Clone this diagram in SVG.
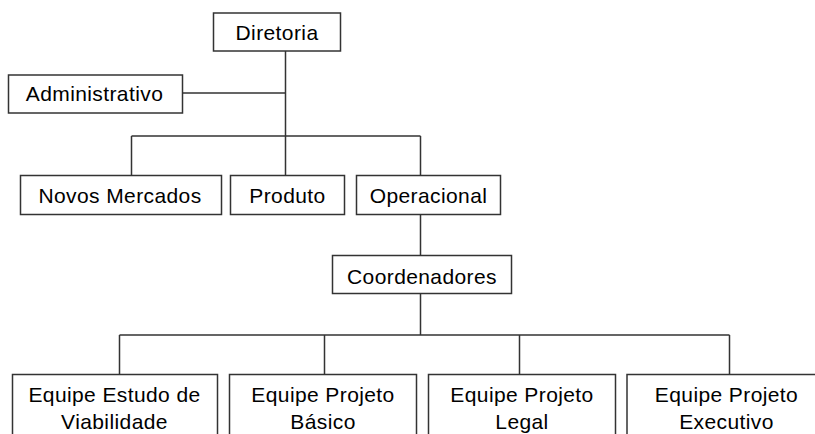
<svg xmlns="http://www.w3.org/2000/svg" width="815" height="434" viewBox="0 0 815 434">
<style>
.box{fill:#fff;stroke:#333;stroke-width:1.5}
.c{fill:none;stroke:#333;stroke-width:1.5}
text{font-family:"Liberation Sans",Arial,sans-serif;font-size:21px;letter-spacing:0.4px;fill:#000;text-anchor:middle}
</style>
<rect width="815" height="434" fill="#fff"/>
<g id="connectors">
<path class="c" d="M285.5,51 V175.5 M182.5,93 H285.5 M131.5,136 H420.5 M131.5,136 V175.5 M420.5,136 V175.5 M420.5,215 V255.5 M420.5,293.5 V335 M119.5,335 H729.5 M119.5,335 V374.5 M324.5,335 V374.5 M519.5,335 V374.5 M729.5,335 V374.5"/>
</g>
<g id="diretoria"><rect class="box" x="213.5" y="13" width="127" height="38"/><text x="277" y="40">Diretoria</text></g>
<g id="administrativo"><rect class="box" x="8.5" y="75" width="174" height="38"/><text x="94.5" y="101">Administrativo</text></g>
<g id="novos-mercados"><rect class="box" x="20.5" y="175.5" width="201" height="39"/><text x="120" y="202.5">Novos Mercados</text></g>
<g id="produto"><rect class="box" x="230.5" y="175.5" width="114" height="39"/><text x="287.5" y="202.5">Produto</text></g>
<g id="operacional"><rect class="box" x="356.5" y="175.5" width="144" height="39"/><text x="428.5" y="202.5">Operacional</text></g>
<g id="coordenadores"><rect class="box" x="332.5" y="255.5" width="179" height="38"/><text x="422" y="283.5">Coordenadores</text></g>
<g id="equipe-estudo"><rect class="box" x="12.5" y="374.5" width="205" height="70"/><text x="114.5" y="401.5">Equipe Estudo de</text><text x="114.5" y="428.5">Viabilidade</text></g>
<g id="equipe-basico"><rect class="box" x="229.5" y="374.5" width="187" height="70"/><text x="323" y="401.5">Equipe Projeto</text><text x="323" y="428.5">Básico</text></g>
<g id="equipe-legal"><rect class="box" x="428.5" y="374.5" width="187" height="70"/><text x="522" y="401.5">Equipe Projeto</text><text x="522" y="428.5">Legal</text></g>
<g id="equipe-executivo"><rect class="box" x="627" y="374.5" width="199" height="70"/><text x="726.5" y="401.5">Equipe Projeto</text><text x="726.5" y="428.5">Executivo</text></g>
</svg>
